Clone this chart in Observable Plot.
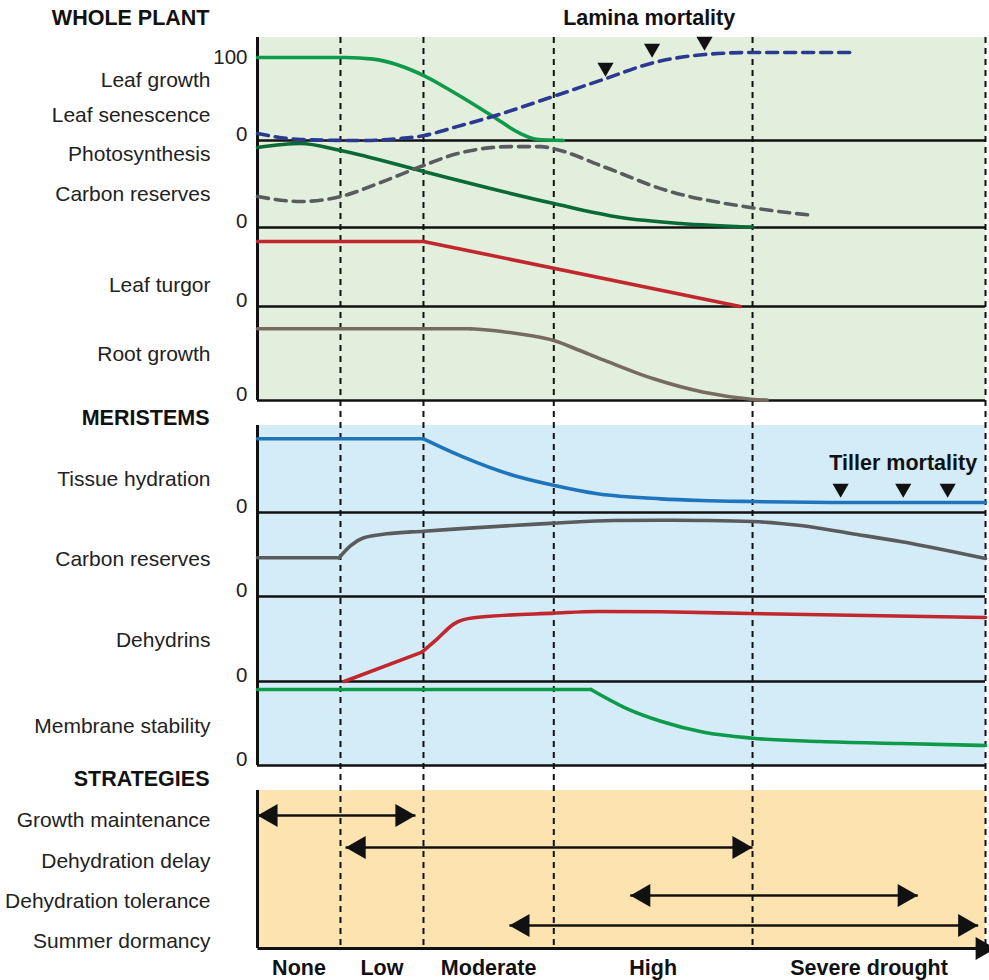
<!DOCTYPE html>
<html>
<head>
<meta charset="utf-8">
<script src="https://cdn.jsdelivr.net/npm/d3@7"></script>
<script src="https://cdn.jsdelivr.net/npm/@observablehq/plot@0.6"></script>
<style>
  html, body { margin: 0; padding: 0; background: #fff; }
  #chart svg { display: block; }
</style>
</head>
<body>
<div id="chart"></div>
<script>
// ---------- DATA ----------
// Drought intensity axis (0 = none, 100 = severe drought)
const stageNames = ["None", "Low", "Moderate", "High", "Severe drought"];
const stageEdges = [0, 11.4, 22.8, 40.7, 68.0, 100];

// Whole plant responses: [drought intensity, relative level 0-100]
const leafGrowth = [[0,100],[12.1,100],[15.9,98],[22.9,78],[27.4,55.7],[32.3,29.3],[36.0,8.9],[38.3,1.6],[42.0,0]];
const leafSenescence = [[0,8.4],[5.9,1.2],[14.1,0],[19.6,2.4],[22.9,6],[27.5,17],[32.3,29],[40.8,53.6],[47.6,73.9],[54.5,94],[61.4,103.6],[67.7,106],[81.6,106]];
const photosynthesis = [[0,92],[5.9,96.6],[11.4,88.5],[22.8,64.4],[32,44.8],[40.7,27.6],[49.9,11.5],[58.1,4.6],[68,0.5]];
const plantCarbon = [[0,35.6],[5.9,29.9],[11.4,35.6],[16.9,51.7],[22.8,71.3],[27.5,85],[34.9,93],[38.9,93],[40.8,90.3],[47.5,70],[56.2,42.5],[67.7,23],[76.4,13.8]];
const leafTurgor = [[0,82.3],[22.8,82.3],[66.3,0]];
const rootGrowth = [[0,76.3],[22.8,76.3],[29.3,76.3],[33.8,73.2],[37.2,69.4],[40.7,63.8],[44,54],[47.5,43.2],[54.4,23.1],[61.3,8.8],[68.1,1.1],[70,0.6]];

// Meristem responses
const tissueHydration = [[0,84.7],[22.8,84.7],[28.3,63.6],[35.2,42.5],[40.8,31],[46.7,21.5],[55.4,15.7],[60.9,13.8],[68,12.6],[81.5,11.5],[100,11.5]];
const meristemCarbon = [[0,46.1],[11.2,46.1],[12.8,60.7],[14.6,69.9],[17.8,74.6],[22.8,77.7],[40.8,87.3],[48.9,90.5],[55.4,90.8],[60.9,90.5],[68,89.3],[74.6,84.5],[81.5,75],[88.3,65.5],[100,45.2]];
const dehydrins = [[11.9,0],[22.6,34.5],[24.7,50.2],[27,67.8],[29.7,74.9],[40.8,80.4],[46.7,82.4],[55.4,82],[67.7,80],[100,75.3]];
const membraneStability = [[0,90.5],[45.8,90.5],[50.8,67.5],[55.4,52.7],[61.3,39.6],[68,32.5],[77.3,28.6],[88.3,26.2],[100,23.8]];

// Mortality markers
const laminaMortality = [[47.8,88],[54.2,110.8],[61.4,119.3]];
const tillerMortality = [[80.1,27.6],[88.7,27.6],[94.8,27.6]];

// Strategies: ranges of drought intensity
const strategyNames = ["Growth maintenance", "Dehydration delay", "Dehydration tolerance", "Summer dormancy"];
const strategyStart = [0, 12.1, 51.2, 34.6];
const strategyEnd = [21.7, 68.0, 90.7, 99.0];

// Labels
const wholePlantLabels = ["Leaf growth", "Leaf senescence", "Photosynthesis", "Carbon reserves", "Leaf turgor", "Root growth"];
const meristemLabels = ["Tissue hydration", "Carbon reserves", "Dehydrins", "Membrane stability"];
const sectionTitles = ["WHOLE PLANT", "MERISTEMS", "STRATEGIES"];

// ---------- LAYOUT (vertical layout units = px from top) ----------
const panels = {
  leaf:      {top: 57,  base: 140},
  photo:     {top: 140, base: 227},
  turgor:    {top: 227, base: 306},
  root:      {top: 306, base: 400},
  hydration: {top: 425, base: 512},
  mcarbon:   {top: 512, base: 596},
  dehydrins: {top: 596, base: 681},
  membrane:  {top: 681, base: 765}
};
const sections = [
  {top: 37,  bottom: 400, fill: "#e3efdd"},
  {top: 425, bottom: 765, fill: "#d4ecf8"},
  {top: 790, bottom: 948, fill: "#fde3b0"}
];
const titleY = [18, 418, 779];
const wholePlantLabelY = [80, 115, 154, 194, 285, 354];
const meristemLabelY = [479, 559, 640, 726];
const strategyLabelY = [820, 861, 901, 941];
const strategyArrowY = [815, 847, 895, 925];
const axisY = 948;
const stageLabelY = 968;

const py = (p, v) => panels[p].base - v / 100 * (panels[p].base - panels[p].top);

// knee: index where a straight (linear) run ends and the smooth curve begins
const series = [
  {data: leafGrowth, panel: "leaf", color: "#0d9b4b"},
  {data: leafSenescence, panel: "leaf", color: "#2b3990", dash: "11,7"},
  {data: photosynthesis, panel: "photo", color: "#0a6a37"},
  {data: plantCarbon, panel: "photo", color: "#5a5b5d", dash: "11,7"},
  {data: leafTurgor, panel: "turgor", color: "#c1272d", knee: 2},
  {data: rootGrowth, panel: "root", color: "#776b60", knee: 2, curve: "catmull-rom"},
  {data: tissueHydration, panel: "hydration", color: "#1f74bb", knee: 1},
  {data: meristemCarbon, panel: "mcarbon", color: "#5a5b5d", knee: 1},
  {data: dehydrins, panel: "dehydrins", color: "#c1272d", knee: 1},
  {data: membraneStability, panel: "membrane", color: "#0d9b4b", knee: 1}
];

const zeroLines = Object.keys(panels).map(k => ({y: panels[k].base}));
const zeroLabels = Object.keys(panels).map(k => ({y: panels[k].base, t: "0"}));

const lineMarks = series.flatMap(s => {
  const pts = s.data.map(([x, v]) => ({x, y: py(s.panel, v)}));
  const opts = {x: "x", y: "y", stroke: s.color, strokeWidth: 3.6, strokeDasharray: s.dash || undefined};
  const curve = s.curve || "monotone-x";
  if (s.knee == null) return [Plot.line(pts, {...opts, curve})];
  const marks = [Plot.line(pts.slice(0, s.knee + 1), {...opts, curve: "linear"})];
  if (s.knee < pts.length - 1) marks.push(Plot.line(pts.slice(s.knee), {...opts, curve}));
  return marks;
});

const strategies = strategyNames.map((n, i) => ({name: n, x1: strategyStart[i], x2: strategyEnd[i], y: strategyArrowY[i]}));

const headR = 8.6, headOff = 13.4;

const chart = Plot.plot({
  width: 989,
  height: 980,
  marginLeft: 257,
  marginRight: 4,
  marginTop: 0,
  marginBottom: 0,
  x: {domain: [0, 100], axis: null},
  y: {domain: [980, 0], axis: null},
  style: {fontFamily: "'Liberation Sans', Arial, sans-serif", background: "#fff", overflow: "visible"},
  marks: [
    // section backgrounds
    Plot.rect(sections, {x1: 0, x2: 100, y1: "top", y2: "bottom", fill: "fill"}),
    // zero lines
    Plot.ruleY(zeroLines, {y: "y", x1: 0, x2: 100, stroke: "#111", strokeWidth: 2.6}),
    // stage dashed boundaries
    Plot.ruleX(stageEdges.slice(1), {x: d => d, y1: sections[0].top, y2: axisY, stroke: "#111", strokeWidth: 2, strokeDasharray: "6,5"}),
    // left axes per section
    Plot.ruleX(sections, {x: 0, y1: "top", y2: "bottom", stroke: "#111", strokeWidth: 3}),
    // curves
    ...lineMarks,
    // mortality markers
    Plot.dot(laminaMortality.map(([x, v]) => ({x, y: py("leaf", v)})), {x: "x", y: "y", symbol: "triangle", r: 6, rotate: 180, fill: "#111", stroke: "none"}),
    Plot.dot(tillerMortality.map(([x, v]) => ({x, y: py("hydration", v)})), {x: "x", y: "y", symbol: "triangle", r: 6, rotate: 180, fill: "#111", stroke: "none"}),
    Plot.text(["Lamina mortality"], {x: 53.8, y: titleY[0], text: d => d, fontSize: 21.5, fontWeight: "bold", fill: "#111"}),
    Plot.text(["Tiller mortality"], {x: 88.7, y: 463, text: d => d, fontSize: 21.5, fontWeight: "bold", fill: "#111"}),
    // strategy arrows
    Plot.link(strategies, {x1: "x1", x2: "x2", y1: "y", y2: "y", stroke: "#111", strokeWidth: 2.6}),
    Plot.dot(strategies, {x: "x2", y: "y", symbol: "triangle", r: headR, rotate: 90, dx: -headOff, fill: "#111", stroke: "none"}),
    Plot.dot(strategies, {x: "x1", y: "y", symbol: "triangle", r: headR, rotate: -90, dx: headOff, fill: "#111", stroke: "none"}),
    // bottom drought axis
    Plot.link([{x1: 0, x2: 100.5, y: axisY}], {x1: "x1", x2: "x2", y1: "y", y2: "y", stroke: "#111", strokeWidth: 3}),
    Plot.dot([{x: 101.4, y: axisY}], {x: "x", y: "y", symbol: "triangle", r: headR, rotate: 90, dx: -headOff, fill: "#111", stroke: "none"}),
    // stage labels
    Plot.text(stageNames.map((n, i) => ({n, x: (stageEdges[i] + stageEdges[i + 1]) / 2})), {x: "x", y: stageLabelY, text: "n", fontSize: 21.5, fontWeight: "bold", fill: "#111"}),
    // tick labels
    Plot.text(zeroLabels, {x: 0, y: "y", text: "t", dx: -10, dy: -6, textAnchor: "end", fontSize: 20.5, fill: "#222"}),
    Plot.text(["100"], {x: 0, y: py("leaf", 100), text: d => d, dx: -10, textAnchor: "end", fontSize: 20.5, fill: "#222"}),
    // section titles
    Plot.text(sectionTitles.map((t, i) => ({t, y: titleY[i]})), {x: 0, y: "y", text: "t", dx: -48, textAnchor: "end", fontSize: 21.5, fontWeight: "bold", fill: "#111"}),
    // row labels
    Plot.text(wholePlantLabels.map((t, i) => ({t, y: wholePlantLabelY[i]})), {x: 0, y: "y", text: "t", dx: -47, textAnchor: "end", fontSize: 21, fill: "#222"}),
    Plot.text(meristemLabels.map((t, i) => ({t, y: meristemLabelY[i]})), {x: 0, y: "y", text: "t", dx: -47, textAnchor: "end", fontSize: 21, fill: "#222"}),
    Plot.text(strategyNames.map((t, i) => ({t, y: strategyLabelY[i]})), {x: 0, y: "y", text: "t", dx: -47, textAnchor: "end", fontSize: 21, fill: "#222"})
  ]
});
document.getElementById("chart").appendChild(chart);
</script>
</body>
</html>
